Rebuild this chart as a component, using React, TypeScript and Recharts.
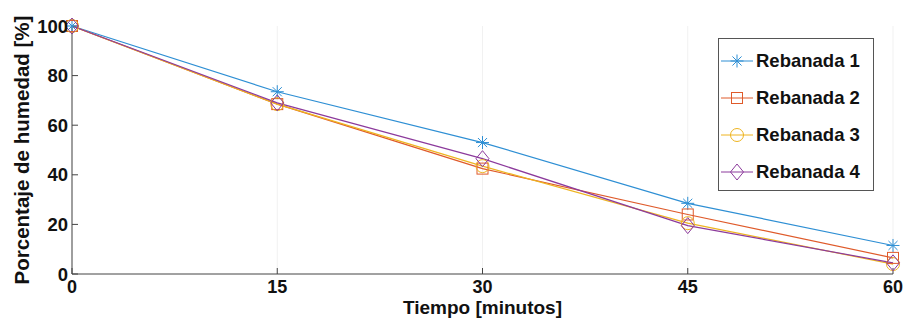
import React from 'react';
import { LineChart, Line, XAxis, YAxis, CartesianGrid } from 'recharts';

const minutes = [0, 15, 30, 45, 60];
const rebanada1 = [100, 73.5, 53, 28.5, 11.5];
const rebanada2 = [100, 68.5, 42.5, 24, 6.5];
const rebanada3 = [100, 68.5, 43.5, 20.5, 4];
const rebanada4 = [100, 69, 46.5, 19.5, 4.5];
const xTicks = [0, 15, 30, 45, 60];
const yTicks = [0, 20, 40, 60, 80, 100];
const seriesNames = ['Rebanada 1', 'Rebanada 2', 'Rebanada 3', 'Rebanada 4'];
const seriesColors = ['#2e8fd4', '#df5a2a', '#eeb420', '#8c3a9c'];
const seriesShapes = ['star', 'square', 'circle', 'diamond'];

const data = minutes.map((m, i) => ({
  t: m,
  r1: rebanada1[i],
  r2: rebanada2[i],
  r3: rebanada3[i],
  r4: rebanada4[i],
}));
const keys = ['r1', 'r2', 'r3', 'r4'];

const FONT = '"Liberation Sans", Arial, Helvetica, sans-serif';

function Marker({ shape, cx, cy, color }: { shape: string; cx: number; cy: number; color: string }) {
  const s = 6.5;
  if (shape === 'star') {
    return (
      <g stroke={color} strokeWidth={1} fill="none">
        <line x1={cx - s} y1={cy} x2={cx + s} y2={cy} />
        <line x1={cx} y1={cy - s} x2={cx} y2={cy + s} />
        <line x1={cx - s * 0.7} y1={cy - s * 0.7} x2={cx + s * 0.7} y2={cy + s * 0.7} />
        <line x1={cx - s * 0.7} y1={cy + s * 0.7} x2={cx + s * 0.7} y2={cy - s * 0.7} />
      </g>
    );
  }
  if (shape === 'square') {
    return <rect x={cx - 5.5} y={cy - 5.5} width={11} height={11} stroke={color} strokeWidth={1} fill="none" />;
  }
  if (shape === 'circle') {
    return <circle cx={cx} cy={cy} r={6.5} stroke={color} strokeWidth={1} fill="none" />;
  }
  return (
    <path
      d={`M${cx},${cy - 8} L${cx + 6.5},${cy} L${cx},${cy + 8} L${cx - 6.5},${cy} Z`}
      stroke={color}
      strokeWidth={1}
      fill="none"
    />
  );
}

const makeDot = (idx: number) => (props: any) => {
  const { cx, cy, index } = props;
  if (cx == null || cy == null) return <g key={`d${idx}-${index}`} />;
  return (
    <g key={`d${idx}-${index}`}>
      <Marker shape={seriesShapes[idx]} cx={cx} cy={cy} color={seriesColors[idx]} />
    </g>
  );
};

const LegendBox = () => (
  <div
    style={{
      position: 'absolute',
      left: 718,
      top: 38,
      width: 156,
      height: 153,
      boxSizing: 'border-box',
      border: '1px solid #555',
      background: '#fff',
      paddingTop: 3,
      fontFamily: FONT,
      fontWeight: 'bold',
      fontSize: 18.5,
      color: '#111',
    }}
  >
    {seriesNames.map((name, i) => (
      <div key={name} style={{ display: 'flex', alignItems: 'center', height: 37 }}>
        <svg width={36} height={20} style={{ marginLeft: 0 }}>
          <line x1={2} y1={10} x2={34} y2={10} stroke={seriesColors[i]} strokeWidth={1} />
          <Marker shape={seriesShapes[i]} cx={18} cy={10} color={seriesColors[i]} />
        </svg>
        <span style={{ marginLeft: 1 }}>{name}</span>
      </div>
    ))}
  </div>
);

const YLabel = (props: any) => {
  const vb = props.viewBox || {};
  const cy = vb.y + vb.height / 2;
  return (
    <text
      x={21}
      y={cy}
      transform={`rotate(-90, 21, ${cy})`}
      textAnchor="middle"
      dominantBaseline="central"
      fontFamily={FONT}
      fontWeight="bold"
      fontSize={20.5}
      fill="#111"
    >
      Porcentaje de humedad [%]
    </text>
  );
};

const XLabel = (props: any) => {
  const vb = props.viewBox || {};
  const cx = vb.x + vb.width / 2;
  return (
    <text
      x={cx}
      y={314}
      textAnchor="middle"
      fontFamily={FONT}
      fontWeight="bold"
      fontSize={19}
      fill="#111"
    >
      Tiempo [minutos]
    </text>
  );
};

export default function App() {
  return (
    <div style={{ position: 'absolute', left: 0, top: 0, width: 907, height: 320, background: '#fff' }}>
      <LineChart width={907} height={320} data={data} margin={{ top: 26, right: 14, bottom: 0, left: 12 }}>
        <CartesianGrid stroke="#f1f1f1" vertical={true} horizontal={false} />
        <XAxis
          dataKey="t"
          type="number"
          domain={[0, 60]}
          ticks={xTicks}
          height={46}
          stroke="#444"
          tickSize={-6}
          tickMargin={12}
          tick={{ fontFamily: FONT, fontWeight: 'bold', fontSize: 18, fill: '#111' }}
          label={<XLabel />}
        />
        <XAxis
          xAxisId="top"
          orientation="top"
          dataKey="t"
          type="number"
          domain={[0, 60]}
          ticks={xTicks}
          height={0}
          stroke="#444"
          tickSize={-6}
          tickMargin={30}
          tick={{ fontSize: 0 }}
        />
        <YAxis
          type="number"
          domain={[0, 100]}
          ticks={yTicks}
          width={60}
          stroke="#444"
          tickSize={-6}
          tickMargin={10}
          interval={0}
          tick={{ fontFamily: FONT, fontWeight: 'bold', fontSize: 18.5, fill: '#111' }}
          label={<YLabel />}
        />
        <YAxis
          yAxisId="right"
          orientation="right"
          type="number"
          domain={[0, 100]}
          ticks={yTicks}
          width={0}
          stroke="#444"
          tickSize={-6}
          tickMargin={30}
          tick={{ fontSize: 0 }}
        />
        {keys.map((k, i) => (
          <Line
            key={k}
            dataKey={k}
            name={seriesNames[i]}
            type="linear"
            stroke={seriesColors[i]}
            strokeWidth={1.2}
            dot={makeDot(i)}
            activeDot={false}
            isAnimationActive={false}
          />
        ))}
      </LineChart>
      <LegendBox />
    </div>
  );
}
